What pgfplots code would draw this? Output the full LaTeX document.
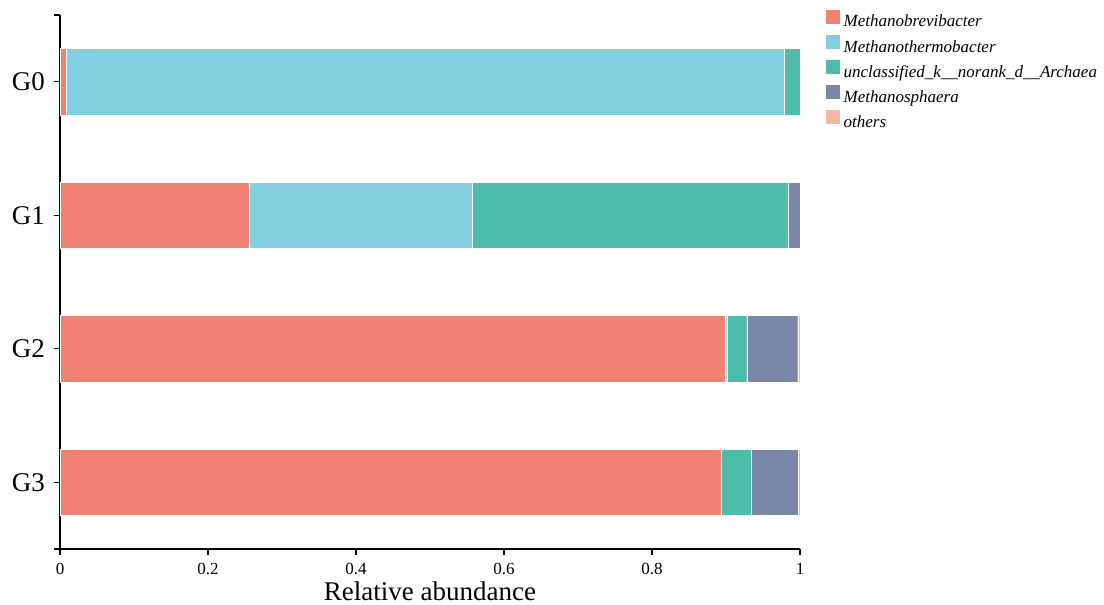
\documentclass[border=0pt]{standalone}
\usepackage{fontspec}
\setmainfont{Liberation Serif}
\usepackage{pgfplots}
\pgfplotsset{compat=1.18}

\definecolor{cBrevi}{RGB}{239,130,115}
\definecolor{cThermo}{RGB}{131,207,226}
\definecolor{cArch}{RGB}{77,188,168}
\definecolor{cSphaera}{RGB}{122,135,168}
\definecolor{cOthers}{RGB}{245,182,163}

\begin{document}
\begin{tikzpicture}
\path (0,0) rectangle (1104pt,605pt);
\begin{axis}[
  at={(60pt,56pt)}, anchor=south west,
  scale only axis, width=740pt, height=534pt,
  xbar stacked, bar width=66.5pt,
  xmin=0, xmax=1, ymin=-0.5, ymax=3.5,
  y dir=reverse,
  axis x line=bottom, axis y line=left,
  axis line style={-, line width=1.2pt, black},
  tick style={line width=1.2pt, black},
  tick align=outside, major tick length=6pt,
  xtick={0,0.2,0.4,0.6,0.8,1},
  xticklabels={0,0.2,0.4,0.6,0.8,1},
  ytick={0,1,2,3},
  yticklabels={G0,G1,G2,G3},
  extra y ticks={-0.5,3.5}, extra y tick labels={},
  /pgf/number format/assume math mode=true,
  xticklabel style={font=\fontsize{17}{20}\selectfont, inner sep=0pt, anchor=north, yshift=-8pt},
  yticklabel style={font=\fontsize{27}{32}\selectfont, inner sep=0pt, anchor=east, xshift=-9pt},
  xlabel={Relative abundance},
  xlabel style={font=\fontsize{27}{32}\selectfont, at={(axis description cs:0.5,0)}, anchor=base, yshift=-51pt, inner sep=0pt},
  legend cell align=left,
  legend style={
    at={(axis description cs:1.0338,1.0122)}, anchor=north west,
    draw=none, fill=none, inner sep=0pt,
    font=\fontsize{17}{20}\selectfont\itshape,
    nodes={inner sep=0pt, text height=12pt, text depth=4pt},
    row sep=3pt,
    /tikz/every odd column/.append style={column sep=3pt},
  },
  legend image code/.code={\fill[#1] (0pt,-1pt) rectangle (15pt,14pt);},
  every axis plot/.append style={draw=white, line width=0.4pt},
  clip=false,
]
% segments, G0 to G3
\addplot[fill=cBrevi] coordinates {(0.0081,0) (0.2554,1) (0.8986,2) (0.8940,3)};
\addplot[fill=cThermo] coordinates {(0.9703,0) (0.3014,1) (0.0028,2) (0.0000,3)};
\addplot[fill=cArch] coordinates {(0.0216,0) (0.4279,1) (0.0266,2) (0.0407,3)};
\addplot[fill=cSphaera] coordinates {(0.0000,0) (0.0153,1) (0.0689,2) (0.0630,3)};
\addplot[fill=cOthers] coordinates {(0.0000,0) (0.0000,1) (0.0031,2) (0.0023,3)};
\legend{Methanobrevibacter, Methanothermobacter, unclassified\_k\_\_norank\_d\_\_Archaea, Methanosphaera, others}
\end{axis}
\end{tikzpicture}
\end{document}
